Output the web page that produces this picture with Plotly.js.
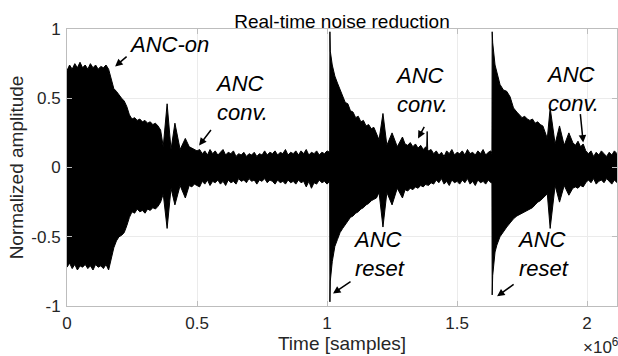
<!DOCTYPE html>
<html>
<head>
<meta charset="utf-8">
<script src="https://cdn.plot.ly/plotly-3.0.1.min.js"></script>
<style>html,body{margin:0;padding:0;background:#fff;}#chart{width:618px;height:356px;}</style>
</head>
<body>
<div id="chart"></div>
<script>
// Time in units of 10^6 samples
const sampleTime = [
  0.00,0.01,0.02,0.03,0.04,0.05,0.06,0.07,0.08,0.09,0.10,0.11,0.12,0.13,0.14,0.15,0.16,
  0.17,0.18,0.19,0.20,0.21,0.22,0.23,0.24,0.25,0.26,0.27,0.28,0.29,0.30,0.31,0.32,0.33,0.34,0.35,0.36,0.37,0.385,0.40,0.415,0.435,0.455,0.47,0.48,0.49,0.50,
  0.51,0.52,0.53,0.54,0.55,0.56,0.57,0.58,0.59,0.60,0.61,0.62,0.63,0.64,0.65,0.66,0.67,0.68,0.69,0.70,
  0.71,0.72,0.73,0.74,0.75,0.76,0.77,0.78,0.79,0.80,0.81,0.82,0.83,0.84,0.85,0.86,0.87,0.88,0.89,0.90,
  0.91,0.92,0.93,0.94,0.95,0.96,0.97,0.98,0.99,1.00,
  1.01,1.011,1.0125,1.02,1.03,1.04,1.05,1.06,1.07,1.08,1.09,1.10,1.11,1.12,1.13,1.14,1.15,1.16,1.17,1.18,
  1.19,1.20,1.215,1.23,1.25,1.27,1.29,1.30,1.31,1.32,1.33,1.34,1.35,1.36,1.37,1.38,1.383,1.385,1.387,1.39,1.40,
  1.41,1.42,1.43,1.44,1.45,1.46,1.47,1.48,1.49,1.50,1.51,1.52,1.53,1.54,1.55,1.56,1.57,1.58,1.59,1.60,1.61,1.62,1.63,
  1.634,1.635,1.637,1.646,1.653,1.665,1.678,1.691,1.704,1.717,1.73,1.74,1.75,1.76,1.77,1.78,1.79,1.80,1.81,1.82,
  1.83,1.847,1.858,1.877,1.894,1.912,1.93,1.945,1.955,1.965,1.975,1.985,1.995,
  2.005,2.015,2.025,2.035,2.045,2.055,2.065,2.075,2.085,2.095,2.105,2.115
];
// Upper envelope of the normalized signal
const envelopeUpper = [
  0.70,0.74,0.71,0.75,0.72,0.76,0.72,0.74,0.71,0.75,0.72,0.74,0.71,0.73,0.72,0.74,0.71,
  0.63,0.57,0.55,0.52,0.50,0.48,0.44,0.38,0.35,0.36,0.34,0.35,0.33,0.34,0.32,0.33,0.31,0.32,0.30,0.27,0.15,0.46,0.13,0.32,0.13,0.21,0.15,0.14,0.13,0.12,
  0.13,0.10,0.12,0.09,0.13,0.10,0.12,0.09,0.11,0.13,0.09,0.11,0.10,0.12,0.08,0.10,0.09,0.11,0.08,0.10,
  0.09,0.11,0.08,0.10,0.09,0.12,0.09,0.11,0.10,0.12,0.09,0.11,0.10,0.13,0.09,0.11,0.10,0.12,0.09,0.12,
  0.10,0.13,0.09,0.11,0.10,0.12,0.09,0.11,0.10,0.12,
  0.11,0.98,0.84,0.74,0.66,0.61,0.56,0.52,0.47,0.46,0.41,0.40,0.36,0.37,0.33,0.34,0.30,0.31,0.28,0.29,
  0.25,0.20,0.39,0.16,0.25,0.15,0.22,0.17,0.16,0.18,0.15,0.17,0.14,0.16,0.13,0.15,0.13,0.26,0.13,0.12,0.13,
  0.10,0.12,0.09,0.11,0.08,0.12,0.10,0.13,0.09,0.11,0.10,0.12,0.09,0.13,0.10,0.11,0.09,0.12,0.10,0.13,0.09,0.11,0.12,
  0.10,0.98,0.90,0.74,0.68,0.60,0.56,0.55,0.51,0.43,0.40,0.38,0.36,0.37,0.35,0.34,0.35,0.32,0.33,0.31,
  0.30,0.21,0.43,0.17,0.30,0.16,0.25,0.18,0.16,0.19,0.15,0.17,0.12,
  0.10,0.12,0.08,0.11,0.09,0.12,0.10,0.08,0.11,0.09,0.12,0.10
];
// Lower envelope of the normalized signal
const envelopeLower = [
  -0.72,-0.69,-0.73,-0.70,-0.74,-0.71,-0.72,-0.70,-0.73,-0.71,-0.74,-0.70,-0.72,-0.71,-0.73,-0.70,-0.74,
  -0.66,-0.58,-0.53,-0.50,-0.49,-0.47,-0.42,-0.36,-0.32,-0.33,-0.30,-0.32,-0.31,-0.33,-0.30,-0.31,-0.29,-0.30,-0.28,-0.25,-0.19,-0.44,-0.15,-0.27,-0.13,-0.22,-0.13,-0.14,-0.12,-0.13,
  -0.14,-0.10,-0.12,-0.09,-0.13,-0.10,-0.11,-0.09,-0.12,-0.10,-0.13,-0.09,-0.11,-0.10,-0.12,-0.08,-0.10,-0.09,-0.11,-0.08,
  -0.10,-0.09,-0.12,-0.09,-0.10,-0.08,-0.11,-0.09,-0.10,-0.12,-0.09,-0.11,-0.10,-0.12,-0.09,-0.11,-0.10,-0.12,-0.09,-0.11,
  -0.10,-0.14,-0.10,-0.15,-0.11,-0.12,-0.09,-0.11,-0.10,-0.12,
  -0.10,-0.97,-0.82,-0.68,-0.57,-0.52,-0.47,-0.44,-0.41,-0.38,-0.36,-0.35,-0.33,-0.32,-0.30,-0.29,-0.27,-0.26,-0.24,-0.23,
  -0.22,-0.18,-0.43,-0.18,-0.27,-0.15,-0.22,-0.16,-0.17,-0.15,-0.16,-0.14,-0.15,-0.13,-0.14,-0.12,-0.13,-0.13,-0.12,-0.13,-0.11,
  -0.12,-0.09,-0.11,-0.08,-0.12,-0.10,-0.13,-0.09,-0.11,-0.10,-0.12,-0.09,-0.11,-0.08,-0.12,-0.10,-0.13,-0.09,-0.11,-0.10,-0.12,-0.09,-0.11,
  -0.11,-0.92,-0.78,-0.61,-0.56,-0.50,-0.46,-0.43,-0.40,-0.37,-0.35,-0.34,-0.33,-0.32,-0.31,-0.30,-0.29,-0.27,-0.25,-0.24,
  -0.22,-0.19,-0.44,-0.13,-0.25,-0.13,-0.20,-0.15,-0.14,-0.15,-0.13,-0.14,-0.11,
  -0.09,-0.11,-0.08,-0.12,-0.10,-0.09,-0.11,-0.08,-0.10,-0.12,-0.09,-0.11
];

const xTickVals = [0, 0.5, 1, 1.5, 2];
const xTickText = ['0', '0.5', '1', '1.5', '2'];
const yTickVals = [-1, -0.5, 0, 0.5, 1];
const yTickText = ['-1', '-0.5', '0', '0.5', '1'];

// Callouts: label text, label anchor (data coords), arrow head (data coords), arrow tail offset (px)
const calloutText  = ['ANC-on', 'ANC<br>conv.', 'ANC<br>conv.', 'ANC<br>conv.', 'ANC<br>reset', 'ANC<br>reset'];
const calloutX     = [0.230, 0.562, 1.252, 1.836, 1.094, 1.724];
const calloutY     = [0.885, 0.500, 0.556, 0.570, -0.628, -0.628];
const arrowHeadX   = [0.185, 0.508, 1.350, 1.985, 1.023, 1.654];
const arrowHeadY   = [0.730, 0.159, 0.210, 0.180, -0.910, -0.930];
const arrowTailDX  = [13, 13, 7, -3, 19, 18];
const arrowTailDY  = [-11, -17, -13, -30, -13, -13];

const font = 'Liberation Sans, Arial, Helvetica, sans-serif';
const axisGray = '#bdbdbd';
const gridGray = '#ebebeb';
const textGray = '#262626';

const traces = [
  {x: sampleTime, y: envelopeLower, type: 'scatter', mode: 'lines',
   line: {color: '#000', width: 1}, hoverinfo: 'skip'},
  {x: sampleTime, y: envelopeUpper, type: 'scatter', mode: 'lines',
   line: {color: '#000', width: 1}, fill: 'tonexty', fillcolor: '#000', hoverinfo: 'skip'}
];

const annotations = [];
for (let i = 0; i < calloutText.length; i++) {
  annotations.push({
    x: calloutX[i], y: calloutY[i], xref: 'x', yref: 'y',
    text: calloutText[i], showarrow: false, xanchor: 'left', yanchor: 'middle', align: 'left',
    font: {family: font, size: 22, color: '#000', style: 'italic'}
  });
  annotations.push({
    x: arrowHeadX[i], y: arrowHeadY[i], xref: 'x', yref: 'y',
    ax: arrowTailDX[i], ay: arrowTailDY[i], text: '', showarrow: true,
    arrowhead: 2, arrowsize: 1, arrowwidth: 1.5, arrowcolor: '#000'
  });
}
annotations.push({
  x: 0.935, y: -0.145, xref: 'paper', yref: 'paper', xanchor: 'left', yanchor: 'middle',
  text: '\u00d710<sup>6</sup>', showarrow: false,
  font: {family: font, size: 17, color: textGray}
});

const layout = {
  width: 618, height: 356,
  margin: {l: 67, r: 1, t: 29, b: 50},
  paper_bgcolor: '#fff', plot_bgcolor: '#fff',
  showlegend: false,
  title: {text: 'Real-time noise reduction', font: {family: font, size: 19, color: '#000'},
          x: 0.5, xref: 'paper', xanchor: 'center', y: 0.941, yref: 'container', yanchor: 'middle'},
  xaxis: {
    range: [0, 2.115], tickvals: xTickVals, ticktext: xTickText,
    ticks: 'inside', ticklen: 5, tickcolor: axisGray, showline: true, linecolor: axisGray, linewidth: 1,
    mirror: 'ticks', showgrid: true, gridcolor: gridGray, zeroline: false,
    tickfont: {family: font, size: 17, color: textGray}, ticklabelstandoff: 2,
    title: {text: 'Time [samples]', font: {family: font, size: 19, color: textGray}, standoff: 0}
  },
  yaxis: {
    range: [-1, 1], tickvals: yTickVals, ticktext: yTickText,
    ticks: 'inside', ticklen: 5, tickcolor: axisGray, showline: true, linecolor: axisGray, linewidth: 1,
    mirror: 'ticks', showgrid: true, gridcolor: gridGray, zeroline: false,
    tickfont: {family: font, size: 17, color: textGray}, ticklabelstandoff: 2,
    title: {text: 'Normalized amplitude', font: {family: font, size: 19, color: textGray}, standoff: 2}
  },
  annotations: annotations
};

Plotly.newPlot('chart', traces, layout, {staticPlot: true, displayModeBar: false});
</script>
</body>
</html>
